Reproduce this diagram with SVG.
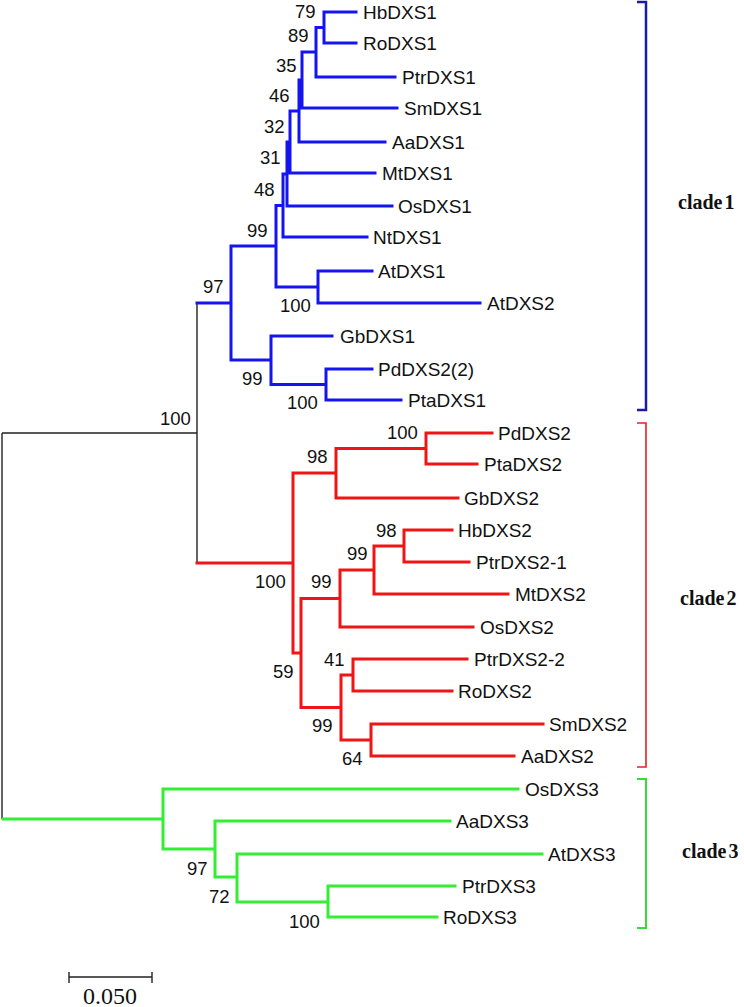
<svg xmlns="http://www.w3.org/2000/svg" width="744" height="1007" viewBox="0 0 744 1007">
<style>
.bg{fill:#ffffff}
.b{fill:none;stroke:#1414f0;stroke-width:3;stroke-linecap:square}
.r{fill:none;stroke:#f01414;stroke-width:3;stroke-linecap:square}
.g{fill:none;stroke:#33ee33;stroke-width:3;stroke-linecap:square}
.k{fill:none;stroke:#222222;stroke-width:1.4}
.tip{font-family:"Liberation Sans",Arial,sans-serif;font-size:19px;fill:#111111}
.bs{font-family:"Liberation Sans",Arial,sans-serif;font-size:18.5px;fill:#111111}
.clade{font-family:"Liberation Serif","Times New Roman",serif;font-size:20px;font-weight:bold;fill:#111111;word-spacing:-3px}
.scale{font-family:"Liberation Serif","Times New Roman",serif;font-size:24px;fill:#111111}
.brb{fill:none;stroke:#1a1aa8;stroke-width:2.5}
.brr{fill:none;stroke:#e82020;stroke-width:1.6}
.brg{fill:none;stroke:#33dd33;stroke-width:2}
</style>
<rect class="bg" x="0" y="0" width="744" height="1007"/>
<g id="connectors">
  <path class="k" d="M2,433 V819 M2,433 H197 M197,303 V563"/>
  <path class="b" d="M197,303 H231 M231,246 V360
    M231,246 H276 M276,205.5 V287
    M276,205.5 H283 M283,174 V237 M283,237 H367
    M283,174 H287 M287,142 V206 M287,206 H392
    M287,142 H290 M290,111 V173 M290,173 H375
    M290,111 H299 M299,80 V142 M299,142 H385
    M299,80 H302 M302,52 V108 M302,108 H397
    M302,52 H316 M316,27.5 V77 M316,77 H395
    M316,27.5 H324 M324,12 V43 M324,12 H356 M324,43 H356
    M276,287 H318 M318,271 V303 M318,271 H372 M318,303 H480
    M231,360 H271 M271,336 V384.5 M271,336 H332
    M271,384.5 H326 M326,369 V400 M326,369 H372 M326,400 H401"/>
  <path class="r" d="M197,563 H293 M293,473 V653
    M293,473 H336 M336,448.5 V498 M336,498 H458
    M336,448.5 H426 M426,433 V464 M426,433 H492 M426,464 H477
    M293,653 H301 M301,598.5 V707.5
    M301,598.5 H340 M340,570 V627 M340,627 H473
    M340,570 H374 M374,546 V594 M374,594 H508
    M374,546 H404 M404,530 V562 M404,530 H452 M404,562 H469
    M301,707.5 H341 M341,675 V740
    M341,675 H353 M353,659 V691 M353,659 H467 M353,691 H452
    M341,740 H371 M371,724 V756 M371,724 H543 M371,756 H514"/>
  <path class="g" d="M3,819 H163 M163,789 V849 M163,789 H518
    M163,849 H215 M215,821 V877 M215,821 H450
    M215,877 H237 M237,854 V902 M237,854 H542
    M237,902 H328 M328,886 V917 M328,886 H455 M328,917 H437"/>
</g>
<g id="clade1-tips">
  <text class="tip" x="363" y="18.7">HbDXS1</text>
  <text class="tip" x="363" y="49.7">RoDXS1</text>
  <text class="tip" x="402" y="83.7">PtrDXS1</text>
  <text class="tip" x="404" y="114.7">SmDXS1</text>
  <text class="tip" x="392" y="148.7">AaDXS1</text>
  <text class="tip" x="382" y="179.7">MtDXS1</text>
  <text class="tip" x="398" y="212.7">OsDXS1</text>
  <text class="tip" x="373" y="243.7">NtDXS1</text>
  <text class="tip" x="378" y="277.7">AtDXS1</text>
  <text class="tip" x="487" y="309.7">AtDXS2</text>
  <text class="tip" x="340" y="342.7">GbDXS1</text>
  <text class="tip" x="378" y="375.7">PdDXS2(2)</text>
  <text class="tip" x="408" y="406.7">PtaDXS1</text>
</g>
<g id="clade2-tips">
  <text class="tip" x="498" y="439.7">PdDXS2</text>
  <text class="tip" x="484" y="470.7">PtaDXS2</text>
  <text class="tip" x="464" y="504.7">GbDXS2</text>
  <text class="tip" x="458" y="536.7">HbDXS2</text>
  <text class="tip" x="476" y="568.7">PtrDXS2-1</text>
  <text class="tip" x="515" y="600.7">MtDXS2</text>
  <text class="tip" x="480" y="633.7">OsDXS2</text>
  <text class="tip" x="474" y="665.7">PtrDXS2-2</text>
  <text class="tip" x="458" y="697.7">RoDXS2</text>
  <text class="tip" x="549" y="730.7">SmDXS2</text>
  <text class="tip" x="521" y="762.7">AaDXS2</text>
</g>
<g id="clade3-tips">
  <text class="tip" x="525" y="795.7">OsDXS3</text>
  <text class="tip" x="456" y="827.7">AaDXS3</text>
  <text class="tip" x="548" y="860.7">AtDXS3</text>
  <text class="tip" x="462" y="892.7">PtrDXS3</text>
  <text class="tip" x="443" y="923.7">RoDXS3</text>
</g>
<g id="bootstrap">
  <text class="bs" x="295" y="18">79</text>
  <text class="bs" x="288" y="42">89</text>
  <text class="bs" x="276" y="72">35</text>
  <text class="bs" x="269" y="102">46</text>
  <text class="bs" x="264" y="133">32</text>
  <text class="bs" x="260" y="164">31</text>
  <text class="bs" x="254" y="196">48</text>
  <text class="bs" x="247" y="237">99</text>
  <text class="bs" x="280" y="312">100</text>
  <text class="bs" x="203" y="293">97</text>
  <text class="bs" x="242" y="385">99</text>
  <text class="bs" x="287" y="409">100</text>
  <text class="bs" x="160" y="425">100</text>
  <text class="bs" x="387" y="439">100</text>
  <text class="bs" x="307" y="463">98</text>
  <text class="bs" x="376" y="537">98</text>
  <text class="bs" x="347" y="560">99</text>
  <text class="bs" x="255" y="588">100</text>
  <text class="bs" x="311" y="588">99</text>
  <text class="bs" x="324" y="666">41</text>
  <text class="bs" x="273" y="678">59</text>
  <text class="bs" x="312" y="732">99</text>
  <text class="bs" x="342" y="765">64</text>
  <text class="bs" x="187" y="875">97</text>
  <text class="bs" x="209" y="903">72</text>
  <text class="bs" x="289" y="928">100</text>
</g>
<g id="bracket-clade1">
  <path class="brb" d="M637,2 H646 V410 H637"/>
  <text class="clade" x="678" y="209">clade 1</text>
</g>
<g id="bracket-clade2">
  <path class="brr" d="M637,423 H646 V767 H637"/>
  <text class="clade" x="680" y="605">clade 2</text>
</g>
<g id="bracket-clade3">
  <path class="brg" d="M637,779 H646 V928 H637"/>
  <text class="clade" x="682" y="858">clade 3</text>
</g>
<g id="scale-bar">
  <path class="k" d="M69,977 H152 M69,972 V983 M152,972 V983"/>
  <text class="scale" x="83" y="1004">0.050</text>
</g>
</svg>
